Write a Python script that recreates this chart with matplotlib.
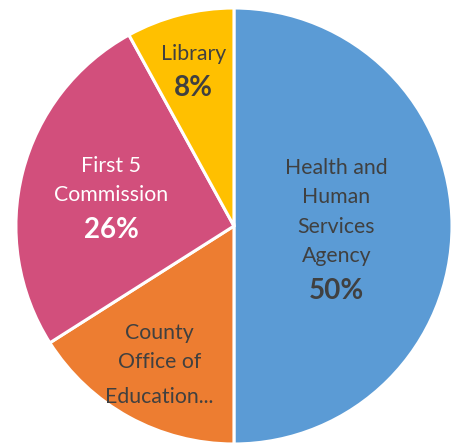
import numpy as np
import matplotlib.pyplot as plt

names = ["Health and\nHuman\nServices\nAgency", "County\nOffice of", "First 5\nCommission", "Library"]
shares = [50, 16, 26, 8]
colors = ["#5B9BD5", "#ED7D31", "#D24F7C", "#FFC000"]
text_colors = ["#404040", "#404040", "white", "#404040"]
label_r = [0.47, 0.71, 0.58, 0.75]

plt.rcParams['font.family'] = ['Lato', 'DejaVu Sans']

fig = plt.figure(figsize=(4.53, 4.44), dpi=100)
ax = fig.add_axes([0, 0, 1, 1])
wedges, _ = ax.pie(shares, colors=colors, startangle=90, counterclock=False,
                   radius=1, wedgeprops=dict(edgecolor="white", linewidth=2.2))
ax.set_aspect('auto')
ax.set_xlim(-1.073, 1.0046)
ax.set_ylim(-1.0, 1.0367)
ax.axis('off')

spacing = 29.6  # px between name lines
gap = 35        # px from last name line to percent line
for w, name, val, r, tc in zip(wedges, names, shares, label_r, text_colors):
    mid = np.deg2rad((w.theta1 + w.theta2) / 2)
    x, y = r * np.cos(mid), r * np.sin(mid)
    n = name.count("\n") + 1
    span = (n - 1) * spacing + gap
    # name block centre relative to block centre
    name_off = span / 2 - (n - 1) * spacing / 2 - 3.5
    ax.annotate(name, (x, y), xytext=(0, name_off), textcoords='offset pixels',
                ha='center', va='center', fontsize=15.3, color=tc,
                linespacing=1.59, multialignment='center')
    if name.startswith("County"):
        ax.annotate("Education...", (x, y), xytext=(0, -span / 2 - 3), textcoords='offset pixels',
                    ha='center', va='center', fontsize=15.3, color=tc)
    else:
        ax.annotate(f"{val}%", (x, y), xytext=(0, -span / 2 - 3), textcoords='offset pixels',
                    ha='center', va='center', fontsize=20, fontweight='bold', color=tc)

fig.savefig("out.png", dpi=100)
